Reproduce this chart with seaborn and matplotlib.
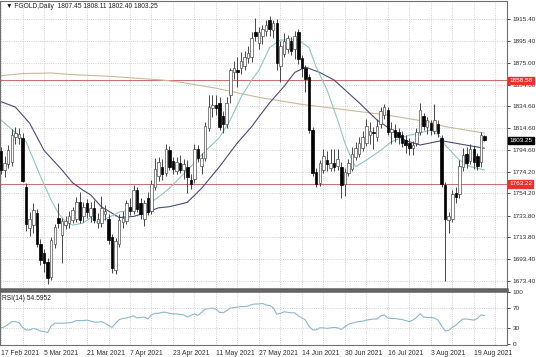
import numpy as np
import pandas as pd
import seaborn as sns
import matplotlib.pyplot as plt

# date labels shown under the chart, one every 12 daily bars
date_labels = ["17 Feb 2021", "5 Mar 2021", "21 Mar 2021", "7 Apr 2021", "23 Apr 2021", "11 May 2021",
               "27 May 2021", "14 Jun 2021", "30 Jun 2021", "16 Jul 2021", "3 Aug 2021", "19 Aug 2021"]

opens = [1793, 1776, 1781, 1783, 1806, 1805, 1805, 1760, 1722, 1725,
         1736, 1708, 1699, 1691, 1677, 1708, 1732, 1716, 1725, 1727,
         1730, 1731, 1746, 1733, 1745, 1733, 1741, 1727, 1727, 1735,
         1731, 1714, 1684, 1708, 1728, 1729, 1742, 1738, 1757, 1745,
         1731, 1750, 1738, 1760, 1770, 1779, 1773, 1794, 1784, 1775,
         1782, 1776, 1779, 1767, 1768, 1795, 1780, 1787, 1815, 1833,
         1836, 1838, 1826, 1818, 1845, 1866, 1868, 1870, 1872, 1879,
         1880, 1903, 1893, 1900, 1904, 1914, 1905, 1912, 1872, 1883,
         1888, 1895, 1888, 1903, 1879, 1870, 1862, 1813, 1774, 1764,
         1776, 1785, 1778, 1782, 1780, 1779, 1763, 1773, 1777, 1788,
         1791, 1796, 1801, 1808, 1811, 1806, 1818, 1827, 1831, 1811,
         1813, 1811, 1808, 1804, 1801, 1796, 1801, 1811, 1826, 1816,
         1819, 1812, 1818, 1805, 1762, 1730, 1731, 1755, 1754, 1779,
         1791, 1784, 1795, 1789, 1783, 1807.45]
highs = [1797, 1789, 1799, 1814, 1816, 1815, 1810, 1764, 1737, 1745,
         1740, 1712, 1703, 1695, 1714, 1726, 1745, 1732, 1733, 1738,
         1742, 1751, 1756, 1746, 1749, 1746, 1748, 1736, 1752, 1744,
         1735, 1717, 1713, 1735, 1738, 1748, 1750, 1762, 1760, 1750,
         1748, 1756, 1767, 1787, 1788, 1786, 1800, 1798, 1788, 1788,
         1790, 1786, 1785, 1772, 1800, 1799, 1792, 1820, 1845, 1845,
         1845, 1843, 1830, 1843, 1870, 1877, 1880, 1885, 1886, 1890,
         1903, 1916, 1908, 1910, 1914, 1918, 1914, 1915, 1895, 1902,
         1901, 1899, 1904, 1906, 1882, 1873, 1865, 1816, 1778, 1785,
         1795, 1793, 1795, 1795, 1795, 1783, 1778, 1786, 1797, 1802,
         1806, 1812, 1823, 1820, 1816, 1823, 1834, 1837, 1834, 1820,
         1818, 1815, 1812, 1808, 1805, 1803, 1815, 1838, 1829, 1825,
         1822, 1837, 1822, 1808, 1765, 1737, 1757, 1760, 1785, 1796,
         1797, 1800, 1798, 1792, 1811, 1808.11]
lows = [1772, 1769, 1778, 1780, 1800, 1800, 1765, 1720, 1715, 1718,
        1705, 1688, 1682, 1671, 1674, 1704, 1722, 1690, 1721, 1722,
        1727, 1728, 1727, 1728, 1732, 1728, 1727, 1722, 1723, 1730,
        1708, 1681, 1680, 1705, 1722, 1726, 1734, 1735, 1737, 1731,
        1724, 1734, 1735, 1757, 1766, 1767, 1770, 1776, 1772, 1772,
        1773, 1768, 1755, 1758, 1764, 1783, 1772, 1784, 1812, 1825,
        1827, 1813, 1810, 1815, 1838, 1860, 1853, 1865, 1868, 1875,
        1876, 1895, 1888, 1892, 1900, 1900, 1898, 1868, 1857, 1880,
        1884, 1882, 1878, 1874, 1862, 1848, 1810, 1770, 1760, 1761,
        1773, 1775, 1775, 1775, 1776, 1750, 1752, 1770, 1775, 1785,
        1788, 1793, 1798, 1800, 1795, 1803, 1815, 1823, 1808, 1800,
        1802, 1800, 1797, 1792, 1790, 1790, 1798, 1808, 1813, 1809,
        1808, 1809, 1806, 1760, 1673, 1718, 1728, 1745, 1750, 1775,
        1778, 1781, 1777, 1776, 1779, 1802.40]
closes = [1776, 1782, 1794, 1808, 1810, 1809, 1766, 1726, 1731, 1739,
          1708, 1693, 1690, 1676, 1711, 1723, 1727, 1729, 1729, 1733,
          1739, 1746, 1730, 1742, 1737, 1741, 1730, 1731, 1741, 1738,
          1711, 1685, 1710, 1730, 1732, 1745, 1738, 1757, 1740, 1735,
          1745, 1737, 1763, 1777, 1783, 1772, 1795, 1779, 1777, 1783,
          1776, 1781, 1769, 1763, 1795, 1787, 1787, 1817, 1834, 1836,
          1833, 1816, 1818, 1838, 1868, 1870, 1866, 1877, 1880, 1884,
          1898, 1900, 1903, 1906, 1910, 1906, 1912, 1875, 1890, 1895,
          1898, 1886, 1900, 1878, 1870, 1860, 1813, 1773, 1763, 1782,
          1789, 1781, 1782, 1779, 1786, 1762, 1774, 1782, 1791, 1796,
          1801, 1806, 1817, 1812, 1810, 1817, 1830, 1834, 1811, 1814,
          1806, 1806, 1801, 1799, 1796, 1799, 1811, 1831, 1817, 1822,
          1813, 1822, 1810, 1763, 1731, 1733, 1754, 1751, 1780, 1790,
          1782, 1795, 1783, 1780, 1808, 1803.25]

rsi = [31, 33, 38, 43, 43, 41, 32, 27, 27, 30,
       28, 25, 24, 22, 35, 40, 40, 40, 40, 41,
       42, 45, 45, 45, 46, 44, 42, 42, 43, 40,
       36, 32, 40, 47, 49, 50, 52, 54, 50, 51,
       52, 48, 56, 59, 59, 61, 61, 59, 58, 58,
       57, 56, 52, 55, 58, 55, 61, 67, 68, 69,
       67, 61, 60, 64, 69, 70, 71, 72, 72, 73,
       76, 77, 77, 78, 75, 74, 70, 57, 59, 62,
       61, 60, 60, 54, 50, 46, 34, 27, 27, 31,
       31, 30, 31, 32, 31, 28, 33, 38, 40, 42,
       43, 44, 46, 47, 48, 48, 54, 56, 50, 49,
       49, 48, 47, 45, 43, 46, 51, 58, 52, 51,
       51, 50, 46, 35, 25, 26, 32, 36, 43, 48,
       48, 47, 46, 49, 56, 54.6]

# moving averages at selected bars
fast_bars = [0, 7, 11, 14, 16, 18, 20, 23, 25, 27, 33, 40, 44, 47, 53, 56, 61, 64, 67, 70, 72, 75,
             78, 83, 86, 88, 91, 94, 96, 98, 99, 102, 106, 109, 112, 114, 117, 120, 123, 124, 128, 131, 135]
fast_vals = [1822, 1802, 1770, 1748, 1736, 1728, 1725, 1727, 1732, 1727, 1737, 1742, 1751, 1759, 1779,
             1790, 1806, 1822, 1843, 1859, 1868, 1889, 1896, 1896, 1889, 1871, 1850, 1822, 1801, 1785,
             1779, 1785, 1794, 1802, 1806, 1808, 1810, 1813, 1806, 1799, 1785, 1779, 1776]
slow_bars = [0, 4, 8, 12, 17, 20, 23, 25, 28, 33, 37, 40, 44, 47, 52, 56, 61, 66, 70, 72, 75, 79,
             82, 85, 89, 93, 96, 100, 105, 109, 113, 117, 123, 128, 135]
slow_vals = [1839, 1834, 1819, 1794, 1776, 1764, 1757, 1753, 1742, 1732, 1733, 1736, 1741, 1742, 1746,
             1759, 1779, 1801, 1816, 1825, 1838, 1853, 1866, 1871, 1866, 1859, 1850, 1838, 1822, 1813,
             1803, 1799, 1803, 1800, 1796]
long_bars = [0, 6, 14, 20, 30, 45, 50, 60, 72, 84, 95, 107, 120, 124, 135]
long_vals = [1863, 1865, 1865.5, 1864, 1862.5, 1859, 1857, 1851.5, 1843, 1836.5, 1832, 1827, 1820, 1816, 1810]

price_ticks = [1915.40, 1895.40, 1875.00, 1854.60, 1834.60, 1814.60, 1794.60,
               1774.20, 1754.20, 1733.80, 1713.80, 1693.40, 1673.40]
levels = [1858.58, 1763.22]
last_price = 1803.25

sns.set_style("white")
plt.rcParams['font.family'] = ['Liberation Sans', 'DejaVu Sans']

df = pd.DataFrame({"open": opens, "high": highs, "low": lows, "close": closes})
df["bar"] = np.arange(len(df))
df["rsi"] = rsi

fig = plt.figure(figsize=(5.36, 3.57), dpi=100)
ax = fig.add_axes([0.0, 0.1905, 0.946, 0.8067])
ax2 = fig.add_axes([0.0, 0.0336, 0.946, 0.1513])

grid_pos = list(range(0, 142, 6))
for a in (ax, ax2):
    a.set_xlim(-0.3, 141.3)
    a.set_xticks(grid_pos)
    a.grid(True, axis="x", ls=":", color="#c4c4c4", lw=0.6)
    for s in a.spines.values():
        s.set_color("#707070")
        s.set_linewidth(0.8)
    a.yaxis.tick_right()

# price panel
ax.set_ylim(1666.0, 1932.0)
ax.set_yticks(price_ticks)
ax.set_yticklabels([f"{v:.2f}" for v in price_ticks])
ax.grid(True, axis="y", ls=":", color="#c4c4c4", lw=0.6)
ax.tick_params(axis="x", length=0, labelbottom=False)
ax.tick_params(axis="y", length=2.5, width=0.6, labelsize=4.6, pad=1.5, colors="#303030")
ax.spines["bottom"].set_linewidth(1.8)
ax.spines["bottom"].set_color("#606060")

for lv in levels:
    ax.axhline(lv, color="#b85a55", lw=0.6, zorder=2)

sns.lineplot(x=long_bars, y=long_vals, ax=ax, color="#cdb89a", lw=0.8, zorder=2)
sns.lineplot(x=slow_bars, y=slow_vals, ax=ax, color="#4b4b78", lw=0.8, zorder=2)
sns.lineplot(x=fast_bars, y=fast_vals, ax=ax, color="#92c6c0", lw=0.8, zorder=2)

up = df["close"] >= df["open"]
ax.vlines(df["bar"], df["low"], df["high"], color="#3a3a3a", lw=0.65, zorder=3)
body_lo = df[["open", "close"]].min(axis=1)
body_h = (df["close"] - df["open"]).abs().clip(lower=0.8)
ax.bar(df["bar"], body_h, bottom=body_lo, width=0.7,
       color=np.where(up, "white", "black"), edgecolor=np.where(up, "#505050", "black"),
       linewidth=0.5, zorder=4)
ax.set_xlabel("")
ax.set_ylabel("")


def price_box(val, face):
    ax.annotate(f"{val:.2f}", xy=(1.0, val), xycoords=("axes fraction", "data"),
                xytext=(1.5, 0), textcoords="offset points", fontsize=4.6, color="white",
                va="center", ha="left", annotation_clip=False, zorder=10,
                bbox=dict(boxstyle="square,pad=0.2", fc=face, ec=face))


for lv in levels:
    price_box(lv, "#e8322d")
price_box(last_price, "black")

fig.text(0.012, 0.983, "\u25bc FGOLD,Daily  1807.45 1808.11 1802.40 1803.25",
         fontsize=4.8, va="center", ha="left", color="#202020")

# RSI panel
sns.lineplot(data=df, x="bar", y="rsi", ax=ax2, color="#8cb8cc", lw=0.8)
ax2.set_ylim(-2, 102)
ax2.axhline(70, ls=":", color="#c4c4c4", lw=0.6)
ax2.axhline(30, ls=":", color="#c4c4c4", lw=0.6)
ax2.set_yticks([0, 30, 70, 100])
ax2.tick_params(axis="y", length=2.5, width=0.6, labelsize=4.6, pad=1.5, colors="#303030")
ax2.set_xticklabels([date_labels[k // 2] if k % 2 == 0 and k // 2 < len(date_labels) else ""
                     for k in range(len(grid_pos))])
ax2.tick_params(axis="x", length=2, width=0.6, labelsize=4.9, pad=1.5, colors="#303030")
for lab in ax2.get_xticklabels():
    lab.set_ha("left")
ax2.spines["top"].set_linewidth(1.8)
ax2.spines["top"].set_color("#606060")
ax2.set_xlabel("")
ax2.set_ylabel("")
ax2.text(0.004, 0.93, "RSI(14) 54.5952", transform=ax2.transAxes, fontsize=4.8,
         va="top", ha="left", color="#202020")

fig.savefig("out.png", dpi=100)
